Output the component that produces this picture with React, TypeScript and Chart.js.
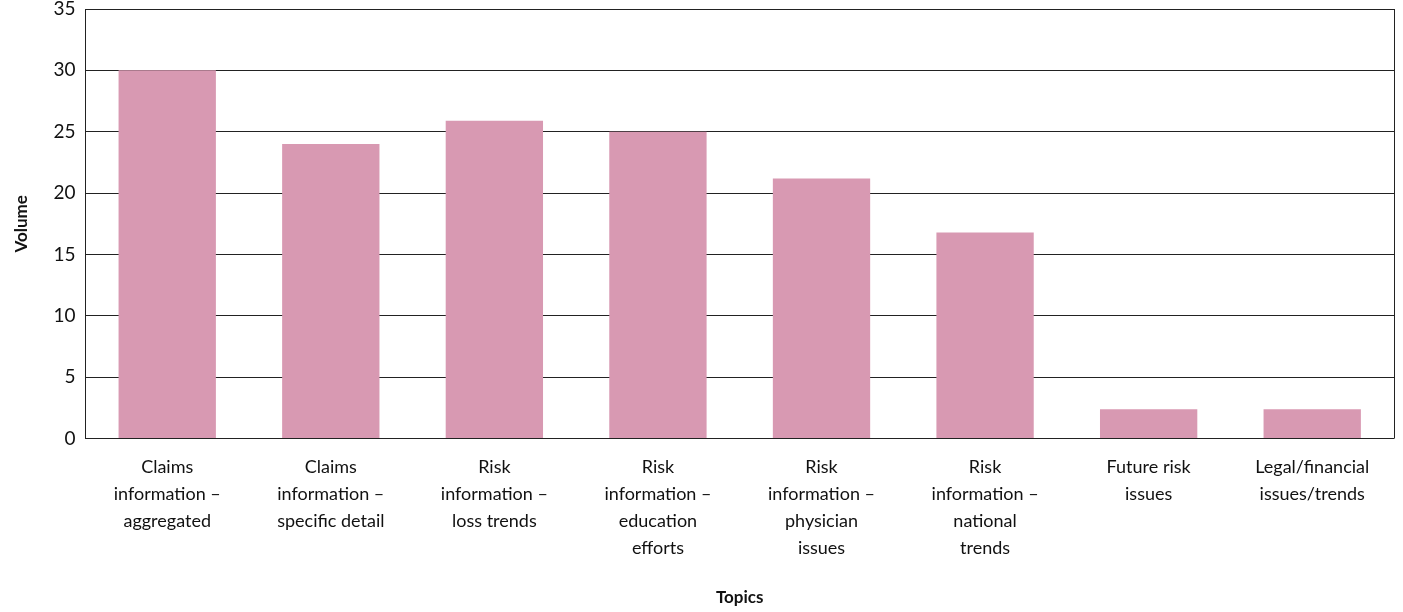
import React, { useEffect, useRef } from "react";
import { Chart, registerables } from "chart.js";

Chart.register(...registerables);

const categories: string[][] = [
  ["Claims", "information –", "aggregated"],
  ["Claims", "information –", "specific detail"],
  ["Risk", "information –", "loss trends"],
  ["Risk", "information –", "education", "efforts"],
  ["Risk", "information –", "physician", "issues"],
  ["Risk", "information –", "national", "trends"],
  ["Future risk", "issues"],
  ["Legal/financial", "issues/trends"],
];
const volumes: number[] = [30, 24, 25.9, 25, 21.2, 16.8, 2.4, 2.4];
const yTicks: number[] = [0, 5, 10, 15, 20, 25, 30, 35];

const FONT = "Lato, 'Open Sans', sans-serif";

const framePlugin = {
  id: "frame",
  afterDatasetsDraw(chart: any) {
    const { ctx, chartArea } = chart;
    ctx.save();
    ctx.strokeStyle = "#222";
    ctx.lineWidth = 1;
    ctx.beginPath();
    ctx.moveTo(chartArea.right + 0.5, chartArea.top);
    ctx.lineTo(chartArea.right + 0.5, chartArea.bottom);
    ctx.stroke();
    ctx.restore();
  },
};

export default function App() {
  const ref = useRef<HTMLCanvasElement | null>(null);
  useEffect(() => {
    document.body.style.margin = "0";
    if (!ref.current) return;
    const chart = new Chart(ref.current, {
      type: "bar",
      data: {
        labels: categories,
        datasets: [
          {
            data: volumes,
            backgroundColor: "#d899b2",
            borderWidth: 0,
            barPercentage: 0.595,
            categoryPercentage: 1,
          },
        ],
      },
      options: {
        animation: false,
        responsive: false,
        maintainAspectRatio: false,
        layout: { padding: { top: 0, right: 9, bottom: 4, left: 11 } },
        plugins: {
          legend: { display: false },
          tooltip: { enabled: false },
        },
        scales: {
          x: {
            grid: { display: false },
            border: { display: false },
            ticks: {
              color: "#111",
              font: { family: FONT, size: 18, lineHeight: 1.5 },
              padding: 7,
              maxRotation: 0,
              autoSkip: false,
            },
            title: {
              display: true,
              text: "Topics",
              color: "#111",
              font: { family: FONT, size: 17, weight: "bold" },
              padding: { top: 19, bottom: 0 },
            },
          },
          y: {
            min: 0,
            max: 35,
            afterBuildTicks: (axis: any) => {
              axis.ticks = yTicks.map((v) => ({ value: v }));
            },
            afterFit: (axis: any) => {
              axis.paddingTop = 9;
              axis.paddingBottom = 0;
            },
            grid: {
              color: "#222",
              lineWidth: 1,
              drawTicks: false,
            },
            border: { display: true, color: "#222", width: 1 },
            ticks: {
              color: "#111",
              font: { family: FONT, size: 19, lineHeight: 1 },
              padding: 10,
            },
            title: {
              display: true,
              text: "Volume",
              color: "#111",
              font: { family: FONT, size: 17, weight: "bold" },
              padding: { top: 0, bottom: 12 },
            },
          },
        },
      },
      plugins: [framePlugin],
    });
    return () => chart.destroy();
  }, []);
  return (
    <div style={{ width: 1403, height: 612 }}>
      <canvas ref={ref} width={1403} height={612} style={{ display: "block" }} />
    </div>
  );
}
